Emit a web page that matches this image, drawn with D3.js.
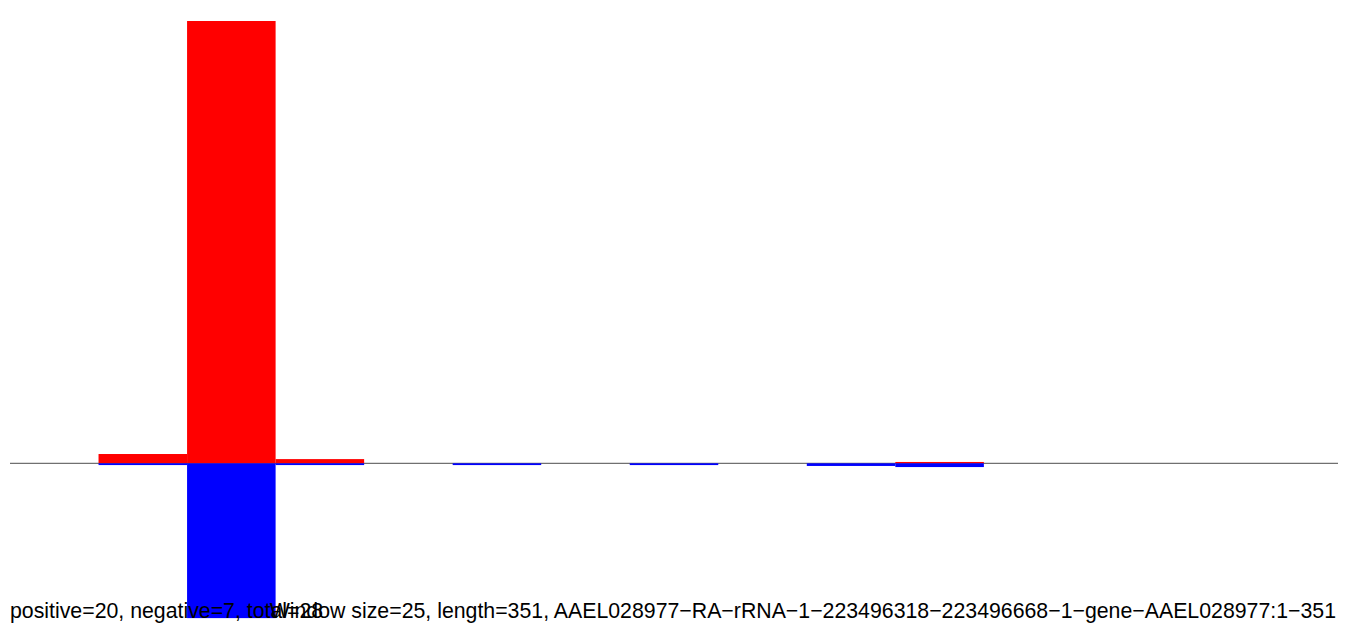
<!DOCTYPE html>
<html>
<head>
<meta charset="utf-8">
<script src="https://cdn.jsdelivr.net/npm/d3@7"></script>
<style>
  html, body { margin: 0; padding: 0; background: #fff; }
  svg { display: block; }
</style>
</head>
<body>
<svg id="chart" width="1358" height="630"></svg>
<script>
// Window start positions (window size 25, length 351)
const binStarts = [0, 25, 50, 75, 100, 125, 150, 175, 200, 225, 250, 275, 300, 325, 350];
const positiveValues = [0, 0.42, 20, 0.19, 0, 0, 0, 0, 0, 0, 0.06, 0, 0, 0, 0];
const negativeValues = [0, 0.08, 7, 0.08, 0, 0.08, 0, 0.08, 0, 0.12, 0.17, 0, 0, 0, 0];
const windowSize = 25;
const leftLabel = "positive=20, negative=7, total=28";
const rightLabel = "Window size=25, length=351, AAEL028977\u2212RA\u2212rRNA\u22121\u2212223496318\u2212223496668\u22121\u2212gene\u2212AAEL028977:1\u2212351";

const svg = d3.select("#chart");
const x = d3.scaleLinear().domain([0, 375]).range([10, 1338]);
const y = d3.scaleLinear().domain([0, 20]).range([463.3, 21]);

// baseline
svg.append("line")
  .attr("x1", x(0)).attr("x2", x(375))
  .attr("y1", y(0)).attr("y2", y(0))
  .attr("stroke", "#4d4d4d").attr("stroke-width", 1);

// positive bars (red)
svg.append("g").selectAll("rect")
  .data(binStarts.map((s, i) => ({s, v: positiveValues[i]})).filter(d => d.v > 0))
  .join("rect")
  .attr("x", d => x(d.s))
  .attr("width", d => x(d.s + windowSize) - x(d.s))
  .attr("y", d => y(d.v))
  .attr("height", d => y(0) - y(d.v))
  .attr("fill", "#ff0000");

// negative bars (blue)
svg.append("g").selectAll("rect")
  .data(binStarts.map((s, i) => ({s, v: negativeValues[i]})).filter(d => d.v > 0))
  .join("rect")
  .attr("x", d => x(d.s))
  .attr("width", d => x(d.s + windowSize) - x(d.s))
  .attr("y", y(0))
  .attr("height", d => y(0) - y(d.v))
  .attr("fill", "#0000ff");

// labels
svg.append("text")
  .attr("x", 10).attr("y", 618)
  .attr("font-family", "Liberation Sans, Arial, Helvetica, sans-serif")
  .attr("font-size", 21.3)
  .attr("fill", "#000")
  .text(leftLabel);

svg.append("text")
  .attr("x", 1336).attr("y", 618)
  .attr("text-anchor", "end")
  .attr("font-family", "Liberation Sans, Arial, Helvetica, sans-serif")
  .attr("font-size", 21.3)
  .attr("fill", "#000")
  .text(rightLabel);
</script>
</body>
</html>
